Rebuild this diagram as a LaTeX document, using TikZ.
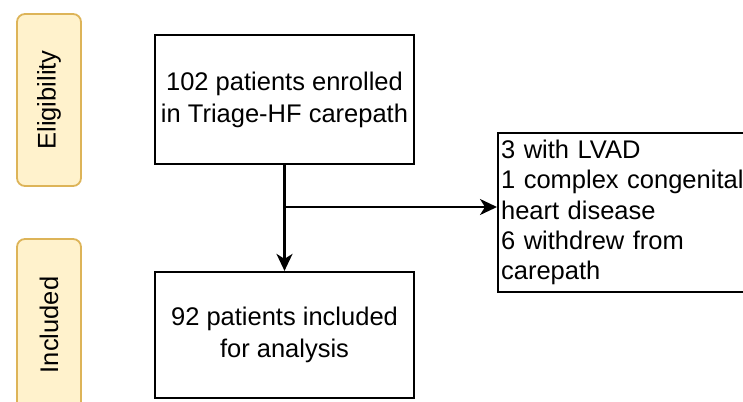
\documentclass[tikz,border=0pt]{standalone}
\usepackage{fontspec}
\setmainfont{Liberation Sans}
\usetikzlibrary{arrows.meta,positioning,calc}
\definecolor{phasefill}{HTML}{FFF2CC}
\definecolor{phaseline}{HTML}{DDB458}

\begin{document}
\begin{tikzpicture}[x=1pt,y=-1pt,
  every node/.style={font=\fontsize{25.5}{32}\selectfont},
  phase/.style={draw=phaseline,fill=phasefill,line width=1.8pt,rounded corners=8pt,
    rotate=90,minimum width=172pt,minimum height=64pt,inner sep=0pt},
  stepbox/.style={draw,line width=2.2pt,minimum width=259pt,align=center,inner sep=0pt},
  flow/.style={draw,line width=2.2pt,-{Stealth[length=17pt,width=16pt,inset=5pt]}}]
\path[use as bounding box,clip] (0,0) rectangle (743,401);
% phases
\node[phase] (elig) at (49,100) {Eligibility};
\node[phase] (incl) at (49,325) {Included};
% flow boxes
\node[stepbox,minimum height=129pt] (enrol) at (284.5,99.5) {102 patients enrolled\\in Triage-HF carepath};
\node[stepbox,minimum height=126pt] (anal) at (284.5,335) {92 patients included\\for analysis};
\node[draw,line width=2.2pt,anchor=west,text width=250pt,minimum height=159pt,
  align=left,inner xsep=3pt,inner ysep=0pt,font=\fontsize{25.5}{30.3}\selectfont]
  (excl) at (497,212.5) {3 with LVAD\\1 complex congenital\\heart disease\\6 withdrew from\\carepath};
% connectors
\coordinate (split) at (284.5,207);
\path[flow] (enrol.south) -- (anal.north);
\path[flow] (split) -- (excl.west |- split);
\end{tikzpicture}
\end{document}
